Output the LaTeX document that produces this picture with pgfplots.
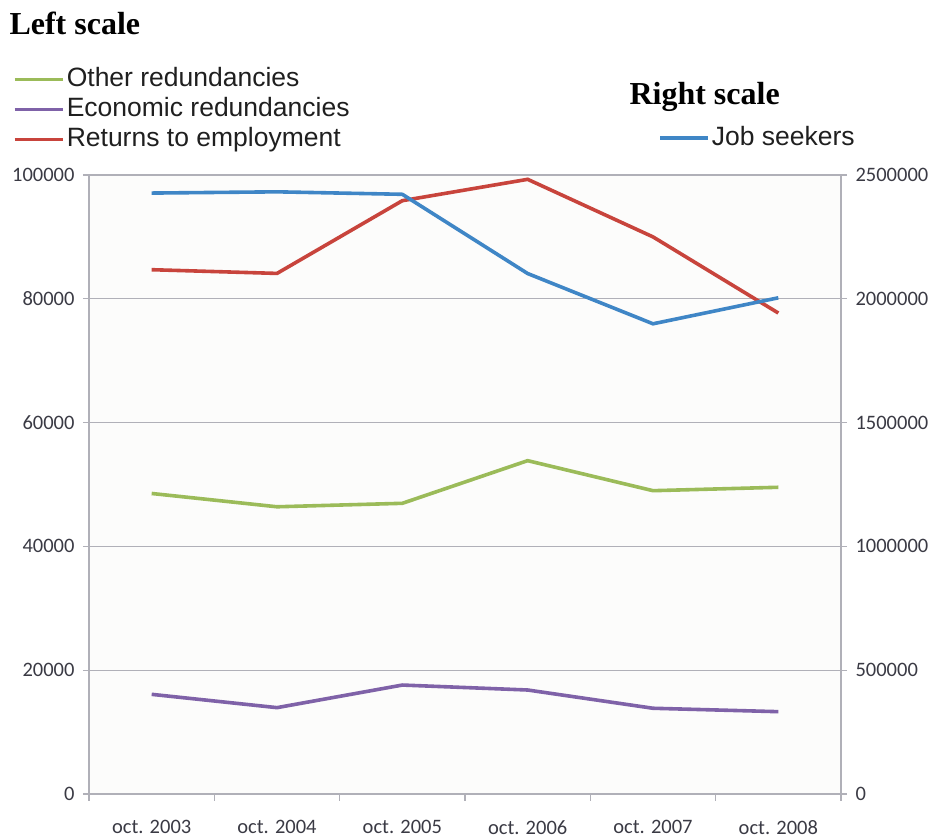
\documentclass[border=0pt]{standalone}
\usepackage{fontspec}
\setmainfont{Liberation Sans}
\newfontfamily\calfont{Carlito}
\newfontfamily\timesfont{Liberation Serif}
\usepackage{pgfplots}
\pgfplotsset{compat=1.18}
\definecolor{cgreen}{HTML}{9BBB59}
\definecolor{cpurple}{HTML}{7F62A8}
\definecolor{cred}{HTML}{C8443C}
\definecolor{cblue}{HTML}{3F86C6}
\definecolor{gridc}{HTML}{B0B0B8}
\definecolor{tickc}{HTML}{3A3A44}
\definecolor{plotbg}{HTML}{FCFCFB}
\pgfplotsset{
  common/.style={
    scale only axis, width=752pt, height=619pt,
    at={(89pt,44pt)}, anchor=south west,
    xmin=-0.5, xmax=5.5,
    tick align=outside,
    major tick length=6pt,
    ticklabel style={font=\calfont\fontsize{20.5}{20.5}\selectfont, text=tickc},
    /pgf/number format/assume math mode=true,
    /pgf/number format/fixed,
    /pgf/number format/precision=0,
    /pgf/number format/1000 sep={},
    scaled y ticks=false,
    axis line style={gridc, line width=1.5pt, -},
    tick style={gridc, line width=1.2pt},
    every axis plot/.append style={line width=3.6pt},
    legend image code/.code={\draw[#1, line width=3.2pt] (0pt,0pt) -- (43pt,0pt); \path (0pt,0pt) -- (48pt,0pt);},
    legend style={draw=none, fill=none, font=\fontsize{26.5}{30}\selectfont, text=black!88,
      inner sep=0pt, row sep=0pt,
      nodes={inner sep=2pt, text height=20pt, text depth=6pt}},
    legend cell align=left,
  }
}
\begin{document}
\begin{tikzpicture}[x=1pt,y=1pt]
\path[use as bounding box] (0,0) rectangle (930,838);
\begin{axis}[common,
  axis x line*=bottom, axis y line*=left,
  axis background/.style={fill=plotbg},
  ymin=0, ymax=100000,
  ytick={0,20000,40000,60000,80000,100000},
  ymajorgrids, grid style={gridc, line width=1.2pt},
  xtick={0,1,2,3,4,5},
  xticklabels={oct. 2003,oct. 2004,oct. 2005,oct. 2006,oct. 2007,oct. 2008},
  major x tick style={draw=none},
  minor xtick={-0.5,0.5,1.5,2.5,3.5,4.5,5.5},
  minor tick length=7pt,
  xticklabel style={yshift=-17pt},
  yticklabel style={xshift=-5pt},
  legend style={at={(-0.1011,1.179)}, anchor=north west},
]
\addplot[cgreen] coordinates {(0,48550) (1,46400) (2,46960) (3,53850) (4,49000) (5,49550)};
\addlegendentry{Other redundancies}
\addplot[cpurple] coordinates {(0,16100) (1,13950) (2,17600) (3,16800) (4,13850) (5,13300)};
\addlegendentry{Economic redundancies}
\addplot[cred] coordinates {(0,84700) (1,84100) (2,95850) (3,99300) (4,90000) (5,77700)};
\addlegendentry{Returns to employment}
\end{axis}
\begin{axis}[common,
  axis y line*=right, axis x line=none,
  ymin=0, ymax=2500000,
  ytick={0,500000,1000000,1500000,2000000,2500000},
  yticklabel style={xshift=5pt},
  legend style={at={(0.7567,1.0839)}, anchor=north west},
]
\addplot[cblue] coordinates {(0,2427000) (1,2432000) (2,2422000) (3,2102000) (4,1899000) (5,2004000)};
\addlegendentry{Job seekers}
\end{axis}
\node[anchor=base west, font=\timesfont\bfseries\fontsize{32}{32}\selectfont] at (6,803) {Left scale};
\node[anchor=base west, font=\timesfont\bfseries\fontsize{32}{32}\selectfont] at (626,733) {Right scale};
\end{tikzpicture}
\end{document}
